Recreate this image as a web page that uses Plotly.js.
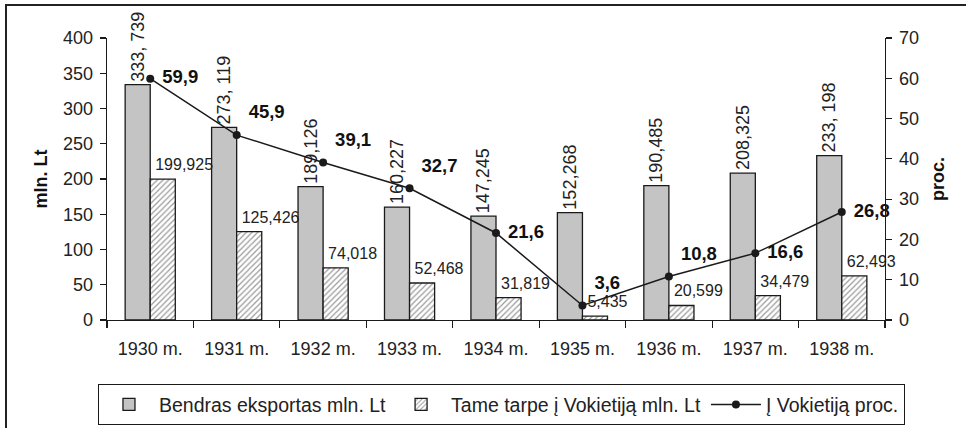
<!DOCTYPE html>
<html><head><meta charset="utf-8">
<script src="https://cdn.plot.ly/plotly-3.0.1.min.js"></script>
<style>
html,body{margin:0;padding:0;background:#fff;}
#wrap{position:relative;width:966px;height:428px;overflow:hidden;}
#chart{position:absolute;left:0;top:0;width:966px;height:428px;}
#frame{position:absolute;left:5px;top:4px;width:980px;height:450px;border:2px solid #222;pointer-events:none;}
</style></head><body>
<div id="wrap"><div id="chart"></div><div id="frame"></div></div>
<script>
const years = ['1930 m.','1931 m.','1932 m.','1933 m.','1934 m.','1935 m.','1936 m.','1937 m.','1938 m.'];
const totalExport = [333.739, 273.119, 189.126, 160.227, 147.245, 152.268, 190.485, 208.325, 233.198];
const toGermany = [199.925, 125.426, 74.018, 52.468, 31.819, 5.435, 20.599, 34.479, 62.493];
const germanyShare = [59.9, 45.9, 39.1, 32.7, 21.6, 3.6, 10.8, 16.6, 26.8];
const totalLabels = ['333, 739','273, 119','189,126','160,227','147,245','152,268','190,485','208,325','233, 198'];
const germanyLabels = toGermany.map(v => v.toFixed(3).replace('.', ','));
const shareLabels = germanyShare.map(v => v.toFixed(1).replace('.', ','));
const sharePos = ['middle right','top right','top right','top right','middle right','top right','top right','middle right','middle right'];

const FONT = '"Liberation Sans", Arial, sans-serif';
const INK = '#1a1a1a';

const traces = [
  {
    type: 'bar', name: 'Bendras eksportas mln. Lt', x: years, y: totalExport,
    marker: {color: '#c4c4c4', line: {color: INK, width: 1.3}},
    text: totalLabels, textposition: 'outside', textangle: -90, constraintext: 'none',
    textfont: {family: FONT, size: 18, color: '#222'}, cliponaxis: false, hoverinfo: 'skip'
  },
  {
    type: 'bar', name: 'Tame tarpe į Vokietiją mln. Lt', x: years, y: toGermany,
    marker: {color: '#ffffff', line: {color: INK, width: 1.3},
      pattern: {shape: '/', fgcolor: '#9a9a9a', bgcolor: '#ffffff', size: 4, solidity: 0.3}},
    hoverinfo: 'skip'
  },
  {
    type: 'scatter', mode: 'markers+text', x: years, y: toGermany, showlegend: false,
    marker: {size: 6.4, color: 'rgba(0,0,0,0)'}, text: germanyLabels, textposition: 'top right',
    textfont: {family: FONT, size: 16, color: '#222'}, cliponaxis: false, hoverinfo: 'skip'
  },
  {
    type: 'scatter', mode: 'lines+markers', name: 'Į Vokietiją proc.', x: years, y: germanyShare, yaxis: 'y2',
    line: {color: INK, width: 1.5}, marker: {color: INK, size: 8}, cliponaxis: false, hoverinfo: 'skip'
  },
  {
    type: 'scatter', mode: 'markers+text', x: years, y: germanyShare, yaxis: 'y2', showlegend: false,
    marker: {size: 17.6, color: 'rgba(0,0,0,0)'}, text: shareLabels, textposition: sharePos,
    textfont: {family: FONT, size: 18.5, weight: 'bold', color: '#111'}, cliponaxis: false, hoverinfo: 'skip'
  }
];

const layout = {
  width: 966, height: 428,
  margin: {l: 107, r: 81, t: 38, b: 108, pad: 0, autoexpand: false},
  paper_bgcolor: 'rgba(0,0,0,0)', plot_bgcolor: 'rgba(0,0,0,0)',
  font: {family: FONT, size: 18, color: '#222'},
  barmode: 'group', bargap: 0.42, bargroupgap: 0,
  showlegend: true,
  legend: {orientation: 'h', x: -0.0116, xanchor: 'left', y: -0.228, yanchor: 'top',
    bordercolor: INK, borderwidth: 1, bgcolor: '#fff', font: {family: FONT, size: 19.5, color: '#222'},
    traceorder: 'normal', itemwidth: 50},
  xaxis: {type: 'category', categoryorder: 'array', categoryarray: years, range: [-0.5, 8.5],
    showline: true, linecolor: INK, linewidth: 1.3, ticks: 'outside', ticklen: 7, tickwidth: 1.2,
    tickcolor: INK, tickson: 'boundaries', showgrid: false, zeroline: false, fixedrange: true,
    tickfont: {family: FONT, size: 18, color: '#222'}, ticklabelstandoff: 12},
  xaxis2: {type: 'category', overlaying: 'x', anchor: 'y', categoryorder: 'array', categoryarray: years,
    range: [-0.5, 8.5], ticks: 'inside', ticklen: 7, tickwidth: 1.2, tickcolor: INK, tickson: 'boundaries',
    showticklabels: false, showline: false, showgrid: false, zeroline: false},
  xaxis3: {overlaying: 'x', anchor: 'y', side: 'top', range: [0, 1], showline: true, linecolor: '#9a9a9a',
    linewidth: 1.2, ticks: '', showticklabels: false, showgrid: false, zeroline: false},
  yaxis: {range: [0, 400], dtick: 50, tick0: 0, showline: true, linecolor: INK, linewidth: 1.3,
    ticks: 'outside', ticklen: 6, tickwidth: 1.2, tickcolor: INK, showgrid: false, zeroline: false,
    tickfont: {family: FONT, size: 18, color: '#222'}, ticklabelstandoff: 3,
    title: {text: '<b>mln. Lt</b>', font: {family: FONT, size: 18, color: '#111'}, standoff: 10}},
  yaxis2: {overlaying: 'y', side: 'right', anchor: 'x', range: [0, 70], dtick: 10, tick0: 0,
    showline: true, linecolor: INK, linewidth: 1.3, ticks: 'outside', ticklen: 6, tickwidth: 1.2,
    tickcolor: INK, showgrid: false, zeroline: false, tickfont: {family: FONT, size: 18, color: '#222'},
    ticklabelstandoff: 3,
    title: {text: '<b>proc.</b>', font: {family: FONT, size: 18, color: '#111'}, standoff: 13}},
  yaxis3: {overlaying: 'y', side: 'left', anchor: 'x', range: [0, 400], dtick: 50, tick0: 0,
    ticks: 'inside', ticklen: 6, tickwidth: 1.2, tickcolor: INK, showticklabels: false,
    showline: false, showgrid: false, zeroline: false},
  yaxis4: {overlaying: 'y', side: 'right', anchor: 'x', range: [0, 70], dtick: 10, tick0: 0,
    ticks: 'inside', ticklen: 6, tickwidth: 1.2, tickcolor: INK, showticklabels: false,
    showline: false, showgrid: false, zeroline: false}
};

Plotly.newPlot('chart', traces, layout, {staticPlot: true, displayModeBar: false});
</script>
</body></html>
